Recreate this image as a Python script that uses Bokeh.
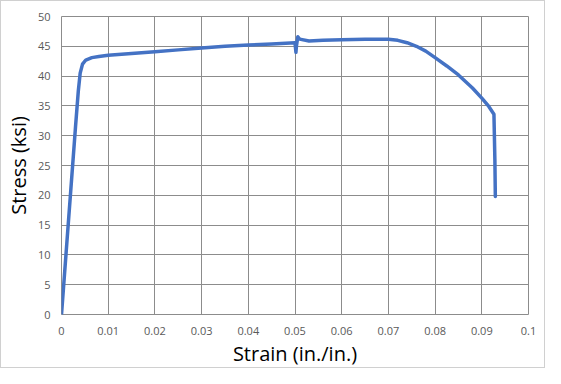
from bokeh.plotting import figure
from bokeh.models import FixedTicker, CustomJSTickFormatter, Range1d
from bokeh.embed import file_html
from bokeh.resources import INLINE

# Data
strain = [0, 0.001, 0.002, 0.003, 0.0036, 0.0040, 0.0045, 0.0052, 0.0065, 0.008,
          0.010, 0.015, 0.020, 0.025, 0.030, 0.035, 0.040, 0.045, 0.0500, 0.0502,
          0.0503, 0.0506, 0.0510, 0.053, 0.056, 0.060, 0.065, 0.070, 0.072, 0.074,
          0.076, 0.078, 0.080, 0.0825, 0.085, 0.088, 0.090, 0.0915, 0.0926, 0.0928,
          0.0929]
stress = [0, 10.5, 21.0, 31.5, 37.5, 40.5, 42.0, 42.7, 43.1, 43.3,
          43.5, 43.8, 44.1, 44.4, 44.7, 45.0, 45.2, 45.4, 45.6, 44.0,
          45.0, 46.6, 46.2, 45.9, 46.0, 46.1, 46.2, 46.2, 46.0, 45.6,
          45.0, 44.2, 43.1, 41.7, 40.2, 38.0, 36.3, 34.9, 33.6, 26.0,
          19.8]

x_ticks = [0, 0.01, 0.02, 0.03, 0.04, 0.05, 0.06, 0.07, 0.08, 0.09, 0.1]
y_ticks = [0, 5, 10, 15, 20, 25, 30, 35, 40, 45, 50]

GRID = "#8c8c8c"
FONT = "Open Sans"

p = figure(width=545, height=368, output_backend="svg", toolbar_location=None,
           x_range=Range1d(0, 0.1), y_range=Range1d(0, 50),
           min_border_left=56, min_border_right=18, min_border_top=15,
           min_border_bottom=53,
           x_axis_label="Strain (in./in.)", y_axis_label="Stress (ksi)")

p.line(strain, stress, line_color="#4472C4", line_width=3.5,
       line_cap="round", line_join="round")

p.xaxis.ticker = FixedTicker(ticks=x_ticks)
p.yaxis.ticker = FixedTicker(ticks=y_ticks)
p.xaxis.formatter = CustomJSTickFormatter(code="return Number(tick.toFixed(2)).toString();")

for ax in (p.xaxis[0], p.yaxis[0]):
    ax.axis_line_color = None
    ax.major_tick_line_color = None
    ax.minor_tick_line_color = None
    ax.major_tick_in = 0
    ax.major_tick_out = 0
    ax.major_label_text_font = FONT
    ax.major_label_text_font_size = "11px"
    ax.major_label_text_color = "#595959"
    ax.axis_label_text_font = FONT
    ax.axis_label_text_font_size = "20px"
    ax.axis_label_text_font_style = "normal"
    ax.axis_label_text_color = "#000000"

p.xaxis.major_label_standoff = 12
p.xaxis.axis_label_standoff = 2
p.yaxis.major_label_standoff = 11
p.yaxis.axis_label_standoff = 3

p.xgrid.grid_line_color = GRID
p.ygrid.grid_line_color = GRID
p.xgrid.grid_line_width = 1
p.ygrid.grid_line_width = 1
p.outline_line_color = GRID
p.outline_line_width = 1
p.background_fill_color = "white"
p.border_fill_color = "white"
p.styles = {"border": "1px solid #d0d0d0"}

open("out.html", "w").write(file_html(p, INLINE))
